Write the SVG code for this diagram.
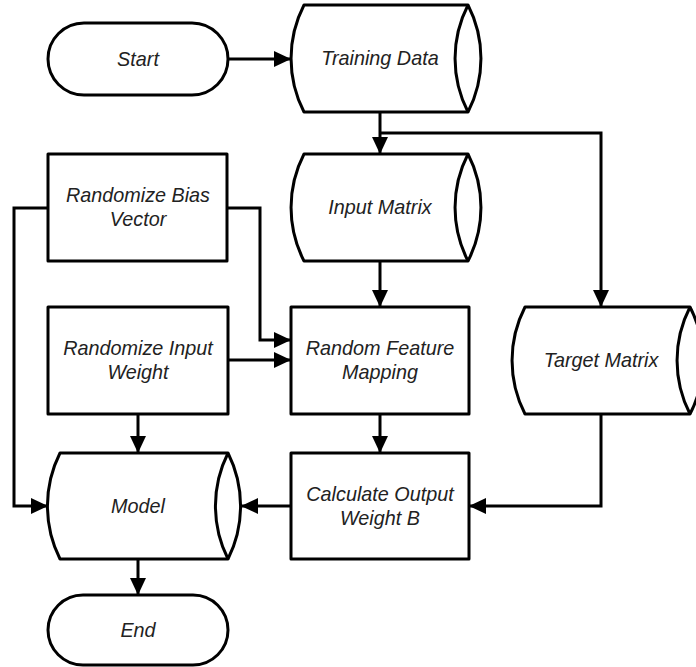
<svg xmlns="http://www.w3.org/2000/svg" width="696" height="667" viewBox="0 0 696 667">
<defs>
<style>
.s{fill:#fff;stroke:#000;stroke-width:3;stroke-linejoin:round}
.i{fill:none;stroke:#000;stroke-width:3}
.c{fill:none;stroke:#000;stroke-width:3;marker-end:url(#ah)}
text{font-family:"Liberation Sans",Arial,sans-serif;font-style:italic;font-size:19.8px;fill:#222;text-anchor:middle}
</style>
<marker id="ah" markerUnits="userSpaceOnUse" markerWidth="18" markerHeight="18" refX="17" refY="8" orient="auto">
<path d="M0,0 L17,8 L0,16 Z" fill="#000"/>
</marker>
</defs>
<rect width="696" height="667" fill="#fff"/>
<g id="connectors">
<path class="c" d="M228,59 H291"/>
<path class="c" d="M380,112 V154"/>
<path class="c" d="M380,133 H601 V307"/>
<path class="c" d="M380,261 V307"/>
<path class="c" d="M227,208 H260 V340 H291"/>
<path class="c" d="M48,208 H14 V506 H48"/>
<path class="c" d="M228,360 H291"/>
<path class="c" d="M138,414 V453"/>
<path class="c" d="M380,414 V453"/>
<path class="c" d="M601,414 V506 H469"/>
<path class="c" d="M291,506 H241"/>
<path class="c" d="M138,559 V595"/>
</g>
<g id="start">
<rect class="s" x="48" y="23" width="180" height="72" rx="36"/>
<text x="138" y="66">Start</text>
</g>
<g id="training-data">
<path class="s" d="M304,5 H468 A117,117 0 0 1 468,112 H304 A117,117 0 0 1 304,5 Z"/>
<path class="i" d="M468,5 A117,117 0 0 0 468,112"/>
<text x="380" y="65">Training Data</text>
</g>
<g id="input-matrix">
<path class="s" d="M304,154 H468 A117,117 0 0 1 468,261 H304 A117,117 0 0 1 304,154 Z"/>
<path class="i" d="M468,154 A117,117 0 0 0 468,261"/>
<text x="380" y="214">Input Matrix</text>
</g>
<g id="randomize-bias">
<rect class="s" x="48" y="154" width="179" height="107"/>
<text x="138" y="202">Randomize Bias</text>
<text x="138" y="226">Vector</text>
</g>
<g id="randomize-input">
<rect class="s" x="48" y="307" width="180" height="107"/>
<text x="138" y="355">Randomize Input</text>
<text x="138" y="379">Weight</text>
</g>
<g id="random-feature">
<rect class="s" x="291" y="307" width="178" height="107"/>
<text x="380" y="355">Random Feature</text>
<text x="380" y="379">Mapping</text>
</g>
<g id="target-matrix">
<path class="s" d="M525,307 H690 A117,117 0 0 1 690,414 H525 A117,117 0 0 1 525,307 Z"/>
<path class="i" d="M690,307 A117,117 0 0 0 690,414"/>
<text x="601" y="367">Target Matrix</text>
</g>
<g id="calculate">
<rect class="s" x="291" y="453" width="178" height="106"/>
<text x="380" y="501">Calculate Output</text>
<text x="380" y="525">Weight B</text>
</g>
<g id="model">
<path class="s" d="M60,453 H228 A118,118 0 0 1 228,559 H60 A118,118 0 0 1 60,453 Z"/>
<path class="i" d="M228,453 A118,118 0 0 0 228,559"/>
<text x="138" y="513">Model</text>
</g>
<g id="end">
<rect class="s" x="48" y="595" width="180" height="70" rx="35"/>
<text x="138" y="637">End</text>
</g>
</svg>
